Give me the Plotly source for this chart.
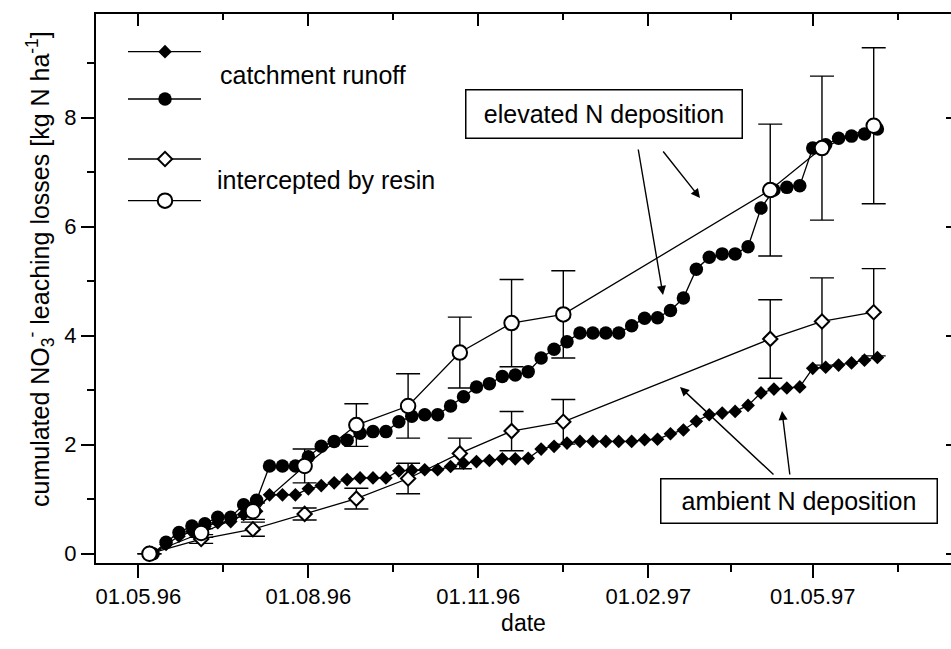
import pandas as pd
import plotly.graph_objects as go

# ---- data -------------------------------------------------------------
# weekly catchment runoff sampling (cumulated NO3- losses, kg N/ha)
runoff_dates = pd.date_range("1996-05-09", periods=57, freq="7D")
runoff_elevated = [0.00, 0.21, 0.39, 0.51, 0.55, 0.67, 0.67, 0.90, 0.98, 1.61,
                   1.61, 1.61, 1.78, 1.97, 2.06, 2.08, 2.21, 2.24, 2.24, 2.42,
                   2.52, 2.55, 2.55, 2.71, 2.88, 3.06, 3.12, 3.25, 3.28, 3.34,
                   3.59, 3.75, 3.89, 4.05, 4.05, 4.05, 4.05, 4.18, 4.32, 4.33,
                   4.46, 4.69, 5.22, 5.44, 5.50, 5.50, 5.63, 6.34, 6.67, 6.72,
                   6.75, 7.44, 7.50, 7.62, 7.66, 7.70, 7.79]
runoff_ambient = [0.00, 0.17, 0.32, 0.41, 0.50, 0.57, 0.59, 0.72, 0.78, 1.08,
                  1.08, 1.08, 1.19, 1.25, 1.30, 1.36, 1.39, 1.39, 1.39, 1.52,
                  1.53, 1.54, 1.54, 1.60, 1.66, 1.69, 1.71, 1.74, 1.74, 1.75,
                  1.92, 1.97, 2.03, 2.06, 2.06, 2.06, 2.06, 2.06, 2.09, 2.10,
                  2.20, 2.27, 2.43, 2.55, 2.58, 2.61, 2.72, 2.95, 3.02, 3.04,
                  3.06, 3.40, 3.42, 3.46, 3.50, 3.55, 3.60]

# ion exchange resin collections (mean +/- sd)
resin_dates = ["1996-05-07", "1996-06-04", "1996-07-02", "1996-07-30",
               "1996-08-27", "1996-09-24", "1996-10-22", "1996-11-19",
               "1996-12-17", "1997-04-08", "1997-05-06", "1997-06-03"]
resin_elevated = [0.00, 0.38, 0.78, 1.61, 2.36, 2.71, 3.69, 4.23, 4.39, 6.67, 7.44, 7.85]
resin_elevated_sd = [0.00, 0.08, 0.15, 0.31, 0.39, 0.59, 0.65, 0.80, 0.80, 1.21, 1.32, 1.43]
resin_ambient = [0.00, 0.27, 0.45, 0.73, 1.01, 1.38, 1.84, 2.25, 2.42, 3.94, 4.26, 4.43]
resin_ambient_sd = [0.00, 0.08, 0.13, 0.11, 0.19, 0.28, 0.28, 0.36, 0.41, 0.72, 0.80, 0.80]

major_ticks = ["1996-05-01", "1996-08-01", "1996-11-01", "1997-02-01", "1997-05-01"]
major_labels = ["01.05.96", "01.08.96", "01.11.96", "01.02.97", "01.05.97"]
minor_ticks = ["1996-06-16", "1996-09-16", "1996-12-17", "1997-03-18", "1997-06-16"]

x_range = ["1996-04-08 02:00", "1997-07-14 20:00"]
y_range = [-0.17, 9.9]

FONT = "Liberation Sans, Arial, Helvetica, sans-serif"
INK = "black"

# plot-area geometry in pixels (used for the key, boxes and pointers)
L, T, W, H = 96, 14, 855, 549


def px(x, y):
    """pixel position -> paper fraction"""
    return (x - L) / W, (T + H - y) / H


fig = go.Figure()

line_style = dict(color=INK, width=1.3)

# catchment runoff (weekly)
fig.add_trace(go.Scatter(
    x=runoff_dates, y=runoff_elevated, mode="lines+markers",
    line=line_style, marker=dict(symbol="circle", size=13.5, color=INK),
    showlegend=False))
fig.add_trace(go.Scatter(
    x=runoff_dates, y=runoff_ambient, mode="lines+markers",
    line=line_style, marker=dict(symbol="diamond", size=10.5, color=INK),
    showlegend=False))

# resin collections with error bars
err_style = dict(type="data", thickness=1.4, width=12, color=INK)
fig.add_trace(go.Scatter(
    x=resin_dates, y=resin_ambient, mode="lines+markers",
    line=line_style,
    marker=dict(symbol="diamond", size=11, color="white", line=dict(color=INK, width=2)),
    error_y=dict(array=resin_ambient_sd, **err_style),
    showlegend=False))
fig.add_trace(go.Scatter(
    x=resin_dates, y=resin_elevated, mode="lines+markers",
    line=line_style,
    marker=dict(symbol="circle", size=14.5, color="white", line=dict(color=INK, width=2)),
    error_y=dict(array=resin_elevated_sd, **err_style),
    showlegend=False))

# ---- hand-made key on a unit overlay axis ----------------------------
key_rows = [
    (51.7, "diamond", 10.5, INK, 0),
    (99.0, "circle", 13.5, INK, 0),
    (159.0, "diamond", 11, "white", 2),
    (200.7, "circle", 14.5, "white", 2),
]
for yk, sym, sz, fill, lw in key_rows:
    (x0, yy), (x1, _), (xm, _) = px(128, yk), px(201, yk), px(165, yk)
    fig.add_trace(go.Scatter(
        x=[x0, x1], y=[yy, yy], mode="lines", line=line_style,
        xaxis="x3", yaxis="y3", showlegend=False, hoverinfo="skip"))
    fig.add_trace(go.Scatter(
        x=[xm], y=[yy], mode="markers",
        marker=dict(symbol=sym, size=sz, color=fill, line=dict(color=INK, width=lw)),
        xaxis="x3", yaxis="y3", showlegend=False, hoverinfo="skip"))

text_font = dict(family=FONT, size=25, color=INK)
annotations = []


def label(text, x, y, **kw):
    fx, fy = px(x, y)
    d = dict(text=text, x=fx, y=fy, xref="paper", yref="paper", showarrow=False,
             font=text_font, xanchor="center", yanchor="middle")
    d.update(kw)
    annotations.append(d)


label("catchment runoff", 218, 75, xanchor="left")
label("intercepted by resin", 215, 180, xanchor="left")
label("elevated N deposition", 603.5, 114.5, width=275, height=47, bgcolor="white",
      bordercolor=INK, borderwidth=1.5, borderpad=0)
label("ambient N deposition", 798.5, 500.5, width=275, height=43, bgcolor="white",
      bordercolor=INK, borderwidth=1.5, borderpad=0)
# rotated y-axis title
label("cumulated NO<sub>3</sub><sup>-</sup> leaching losses [kg N ha<sup>-1</sup>]",
      40, 269, textangle=-90, font=dict(family=FONT, size=25, color=INK))

# pointer arrows (head position, tail as pixel offset)
arrows = [
    ((663, 295), (-25, -147)),
    ((700, 198), (-38, -48)),
    ((680, 387), (95, 89)),
    ((782, 411), (8, 65)),
]
for (hx, hy), (dx, dy) in arrows:
    fx, fy = px(hx, hy)
    annotations.append(dict(
        x=fx, y=fy, xref="paper", yref="paper",
        ax=dx, ay=dy, axref="pixel", ayref="pixel", text="", showarrow=True,
        arrowhead=2, arrowsize=1.3, arrowwidth=1.4, arrowcolor=INK))

tick_font = dict(family=FONT, size=22, color=INK)

fig.update_layout(
    width=951, height=649,
    margin=dict(l=L, r=951 - L - W, t=T, b=649 - T - H, pad=0),
    paper_bgcolor="white", plot_bgcolor="white",
    font=dict(family=FONT, color=INK),
    showlegend=False,
    annotations=annotations,
    xaxis=dict(
        type="date", range=x_range, showgrid=False, zeroline=False,
        showline=True, linecolor=INK, linewidth=2,
        ticks="outside", ticklen=13, tickwidth=1.6, tickcolor=INK,
        tickmode="array", tickvals=major_ticks, ticktext=major_labels,
        tickfont=tick_font,
        minor=dict(tickmode="array", tickvals=minor_ticks, ticks="outside",
                   ticklen=7, tickwidth=1.6, tickcolor=INK, showgrid=False),
        title=dict(text="date", font=dict(family=FONT, size=23, color=INK), standoff=6),
    ),
    xaxis2=dict(
        type="date", range=x_range, overlaying="x", side="top",
        showgrid=False, zeroline=False, showline=True, linecolor=INK, linewidth=2,
        ticks="inside", ticklen=12, tickwidth=1.6, tickcolor=INK,
        tickmode="array", tickvals=major_ticks, showticklabels=False,
        minor=dict(tickmode="array", tickvals=minor_ticks, ticks="inside",
                   ticklen=6, tickwidth=1.6, tickcolor=INK, showgrid=False),
    ),
    yaxis=dict(
        range=y_range, showgrid=False, zeroline=False,
        showline=True, linecolor=INK, linewidth=2,
        ticks="outside", ticklen=13, tickwidth=1.6, tickcolor=INK,
        tickmode="array", tickvals=[0, 2, 4, 6, 8], tickfont=tick_font,
        minor=dict(tickmode="array", tickvals=[1, 3, 5, 7, 9], ticks="outside",
                   ticklen=7, tickwidth=1.6, tickcolor=INK, showgrid=False),
    ),
    yaxis2=dict(
        range=y_range, overlaying="y", side="right", showgrid=False,
        zeroline=False, showline=False, ticks="inside", ticklen=5,
        tickwidth=1.6, tickcolor=INK, tickmode="array",
        tickvals=[0, 2, 4, 6, 8], showticklabels=False,
    ),
    xaxis3=dict(range=[0, 1], overlaying="x", visible=False, fixedrange=True),
    yaxis3=dict(range=[0, 1], overlaying="y", visible=False, fixedrange=True),
)

# invisible point so the top/right overlay axes are drawn
fig.add_trace(go.Scatter(x=[x_range[0]], y=[y_range[0]], xaxis="x2", yaxis="y2",
                         mode="markers", marker=dict(opacity=0), showlegend=False,
                         hoverinfo="skip"))

fig.write_html("out.html")
